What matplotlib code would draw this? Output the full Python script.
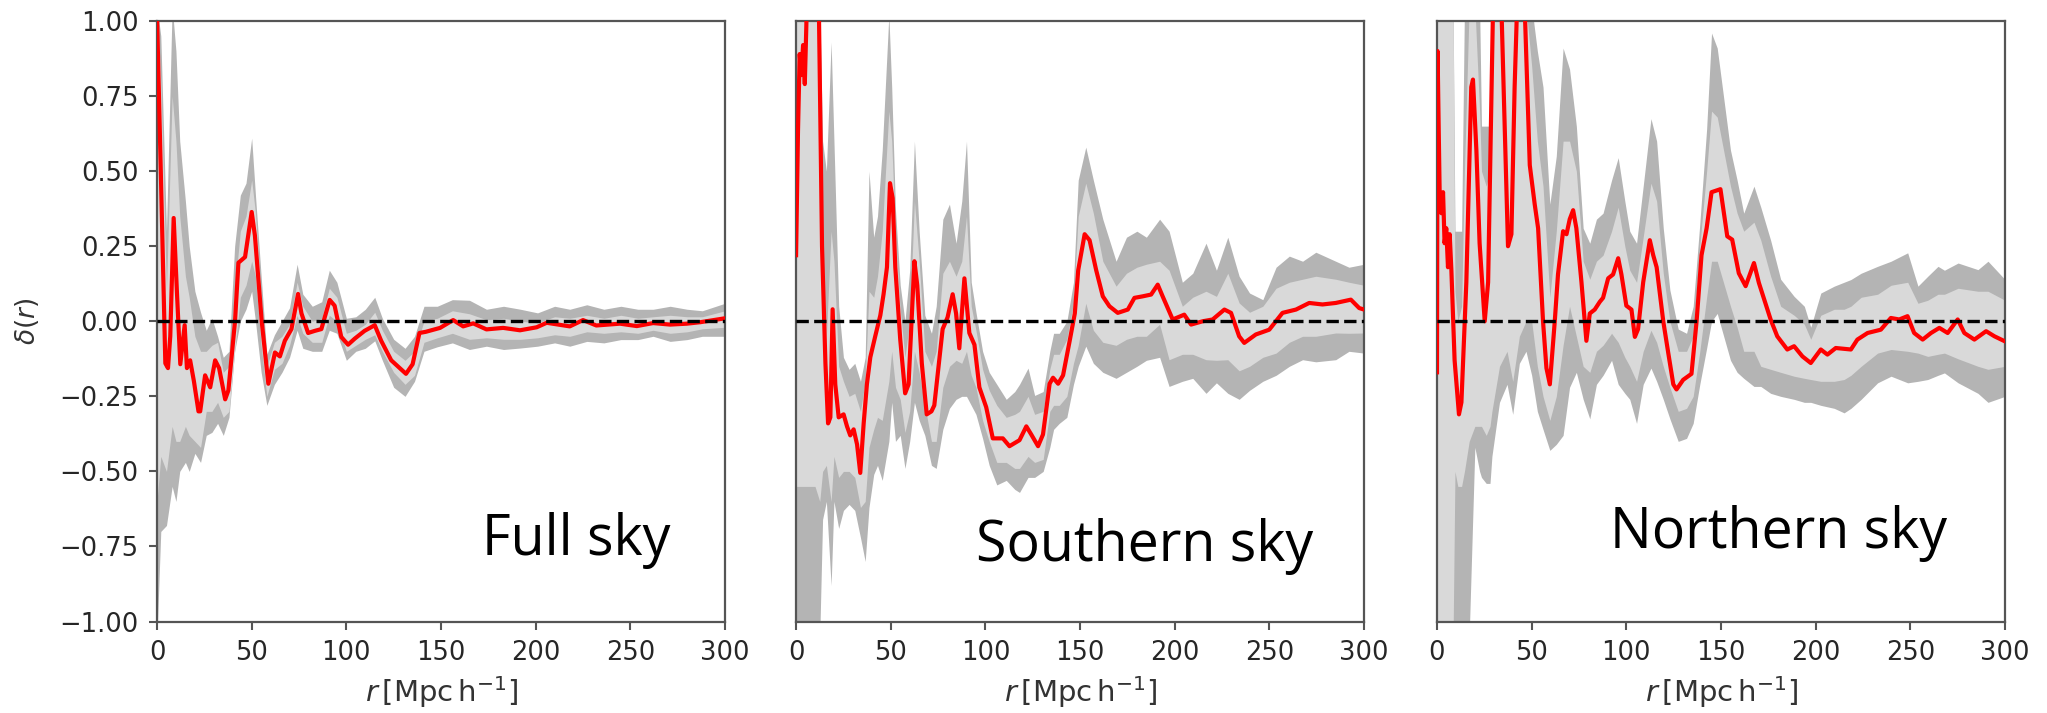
import matplotlib.pyplot as plt
from matplotlib.ticker import FuncFormatter

# ---------------- Full sky ----------------
r_full = [0, 2, 4.4, 5.8, 7, 8.8, 10.5, 12.3, 14.6, 15.8, 17.5, 19.5, 21.9, 22.8, 25.4, 28.1,
          30.7, 32.8, 36, 37.7, 41.2, 43, 46.5, 50, 51.7, 55.3, 58.8, 62.3, 64.9, 67.5, 71,
          74.5, 76.3, 79.8, 83.3, 86.8, 91.2, 93.8, 97.3, 100.9, 104.4, 109.6, 115, 118.4,
          123.7, 131.5, 135, 138.6, 142, 149.5, 156.4, 161.7, 167, 174, 182.8, 191.7, 200.5,
          205.8, 218, 225, 232, 244.5, 253.4, 262, 271, 279.8, 287, 300]
delta_full = [1.02, 0.5, -0.14, -0.156, -0.05, 0.344, 0.1, -0.143, -0.013, -0.156, -0.13, -0.2,
              -0.30, -0.30, -0.18, -0.22, -0.13, -0.156, -0.26, -0.23, 0.0, 0.195, 0.214, 0.364,
              0.286, 0.0, -0.208, -0.104, -0.117, -0.065, -0.026, 0.091, 0.026, -0.039, -0.032,
              -0.026, 0.071, 0.052, -0.052, -0.078, -0.058, -0.032, -0.013, -0.065, -0.13,
              -0.175, -0.143, -0.039, -0.035, -0.022, 0.004, -0.017, -0.007, -0.027, -0.022,
              -0.03, -0.02, -0.005, -0.017, 0.004, -0.014, -0.008, -0.016, -0.006, -0.011,
              -0.008, -0.003, 0.01]

rb_full = [0, 2, 5, 8, 10, 12, 15, 17, 20, 23, 26, 29, 32, 35, 38, 41, 44, 47, 50, 52, 55, 58,
           62, 66, 70, 74, 77, 82, 87, 91, 95, 100, 105, 110, 115, 119, 125, 131, 136, 141, 148,
           156, 165, 174, 183, 192, 201, 210, 218, 227, 236, 245, 254, 262, 271, 280, 288, 300]
hi2_full = [1.05, 0.95, 0.3, 1.05, 0.9, 0.6, 0.4, 0.25, 0.1, 0.03, -0.03, 0.01, -0.05, -0.12,
            -0.1, 0.25, 0.42, 0.46, 0.61, 0.42, 0.15, -0.11, -0.045, 0.0, 0.045, 0.19, 0.09,
            0.05, 0.065, 0.17, 0.13, 0.01, 0.015, 0.04, 0.08, 0.01, -0.06, -0.09, -0.05, 0.05,
            0.05, 0.072, 0.07, 0.04, 0.05, 0.04, 0.028, 0.05, 0.04, 0.055, 0.04, 0.05, 0.04,
            0.04, 0.05, 0.04, 0.035, 0.06]
hi1_full = [1.05, 0.8, 0.1, 0.75, 0.6, 0.35, 0.15, 0.08, -0.05, -0.1, -0.1, -0.08, -0.07, -0.17,
            -0.15, 0.1, 0.3, 0.35, 0.47, 0.36, 0.08, -0.15, -0.07, -0.05, -0.01, 0.13, 0.05,
            0.0, 0.01, 0.11, 0.08, -0.04, -0.03, -0.01, 0.03, -0.03, -0.1, -0.13, -0.1, 0.0,
            0.01, 0.035, 0.025, 0.005, 0.01, 0.0, -0.005, 0.015, 0.01, 0.02, 0.01, 0.02, 0.01,
            0.015, 0.02, 0.015, 0.015, 0.035]
lo1_full = [-0.6, -0.45, -0.5, -0.35, -0.4, -0.4, -0.35, -0.38, -0.4, -0.42, -0.3, -0.3, -0.27,
            -0.32, -0.3, -0.1, 0.08, 0.12, 0.2, 0.15, -0.08, -0.25, -0.16, -0.14, -0.08, 0.02,
            -0.04, -0.07, -0.07, 0.02, 0.0, -0.1, -0.08, -0.06, -0.045, -0.1, -0.17, -0.21,
            -0.18, -0.07, -0.055, -0.04, -0.06, -0.055, -0.06, -0.06, -0.055, -0.045, -0.05,
            -0.035, -0.04, -0.035, -0.04, -0.03, -0.04, -0.035, -0.025, -0.02]
lo2_full = [-1.05, -0.7, -0.68, -0.55, -0.6, -0.5, -0.47, -0.5, -0.44, -0.47, -0.38, -0.37,
            -0.34, -0.38, -0.32, -0.1, 0.0, 0.04, 0.1, 0.0, -0.17, -0.28, -0.21, -0.17, -0.12,
            -0.03, -0.09, -0.1, -0.1, -0.03, -0.04, -0.13, -0.1, -0.09, -0.065, -0.13, -0.22,
            -0.25, -0.2, -0.1, -0.085, -0.072, -0.094, -0.083, -0.094, -0.089, -0.083, -0.072,
            -0.083, -0.067, -0.072, -0.061, -0.061, -0.05, -0.067, -0.061, -0.05, -0.05]

# ---------------- Southern sky ----------------
r_south = [0, 1, 1.9, 2.8, 3.7, 4.6, 5.4, 6.5, 11.5, 13.7, 15.5, 16.9, 18.1, 19.3, 20.7, 22.5,
           25.1, 26.9, 28.6, 30.4, 32.2, 33.9, 35.7, 37.4, 39.2, 41.8, 44.5, 46.2, 48, 49.6, 51,
           52.4, 55, 57.6, 59.4, 62.5, 64, 66.4, 69, 71.5, 73, 77.4, 80, 82.7, 84.5, 86.2, 88.9,
           91.5, 94.2, 96.8, 100.4, 103.9, 109.2, 112.7, 118, 121.6, 124.2, 127.8, 130.4,
           133.9, 135.7, 138.4, 141, 144.5, 147.2, 149, 152.4, 155, 158.5, 162, 165.5, 169.9,
           175.2, 178.7, 183, 187.5, 191, 193.6, 198.9, 205, 208.6, 214.7, 220, 226.2, 229.7,
           234, 236.7, 242.8, 249.9, 256.9, 264, 271, 278, 285, 293, 297.4, 300]
delta_south = [0.22, 0.63, 0.89, 0.82, 0.92, 0.79, 0.98, 1.3, 1.3, 0.25, -0.14, -0.34, -0.32,
               0.04, -0.21, -0.32, -0.31, -0.35, -0.38, -0.36, -0.41, -0.505, -0.34, -0.21,
               -0.12, -0.05, 0.02, 0.09, 0.18, 0.46, 0.41, 0.18, -0.06, -0.24, -0.21, 0.2, 0.12,
               -0.14, -0.31, -0.30, -0.28, -0.026, 0.013, 0.09, 0.026, -0.09, 0.143, -0.039,
               -0.078, -0.22, -0.286, -0.39, -0.39, -0.416, -0.396, -0.35, -0.377, -0.416,
               -0.377, -0.208, -0.188, -0.208, -0.18, -0.065, 0.026, 0.17, 0.29, 0.27, 0.17,
               0.083, 0.05, 0.028, 0.039, 0.078, 0.083, 0.089, 0.122, 0.083, 0.006, 0.022,
               -0.011, 0.0, 0.006, 0.039, 0.028, -0.05, -0.072, -0.044, -0.028, 0.028, 0.039,
               0.061, 0.056, 0.061, 0.072, 0.044, 0.039]

rb_south = [0, 5, 10, 12.5, 14, 16, 18.5, 20, 22.5, 25, 28, 31, 34, 36.5, 38.5, 41, 43, 45.5, 49,
            50.5, 52.5, 55, 57.5, 60, 62.5, 65, 68, 71.5, 74, 77.5, 81, 84.5, 87.5, 90, 92.5, 95,
            98.5, 102, 106, 111, 115.5, 118, 122.5, 126, 130.5, 134, 136, 139, 143, 146.5, 149,
            153, 157, 162, 169, 174.5, 180, 185, 192, 197, 204, 209.5, 216.5, 222, 228, 234,
            239.5, 246.5, 253.5, 260.5, 267.5, 274.5, 285, 292, 300]
hi2_south = [1.05, 1.05, 1.05, 1.05, 0.6, 0.5, 0.93, 0.6, 0.05, -0.12, -0.16, -0.14, -0.2, -0.12,
             0.5, 0.28, 0.35, 0.57, 1.02, 0.78, 0.37, 0.12, 0.0, 0.17, 0.6, 0.3, 0.02, -0.04,
             0.05, 0.34, 0.39, 0.26, 0.4, 0.6, 0.13, 0.03, -0.1, -0.17, -0.21, -0.26, -0.234,
             -0.21, -0.156, -0.247, -0.234, -0.1, -0.04, -0.04, 0.0, 0.13, 0.47, 0.58, 0.47,
             0.34, 0.2, 0.28, 0.3, 0.28, 0.34, 0.3, 0.13, 0.16, 0.26, 0.17, 0.28, 0.15, 0.094,
             0.072, 0.18, 0.217, 0.2, 0.23, 0.2, 0.18, 0.19]
hi1_south = [1.05, 1.05, 1.05, 1.05, 0.2, -0.05, 0.3, 0.2, -0.15, -0.2, -0.25, -0.24, -0.3, -0.2,
             0.1, 0.08, 0.15, 0.3, 0.7, 0.6, 0.28, 0.04, -0.12, 0.0, 0.4, 0.2, -0.1, -0.15,
             -0.1, 0.16, 0.2, 0.15, 0.2, 0.35, 0.05, -0.03, -0.16, -0.23, -0.28, -0.32, -0.31,
             -0.3, -0.25, -0.31, -0.3, -0.16, -0.11, -0.11, -0.06, 0.06, 0.35, 0.46, 0.36, 0.2,
             0.117, 0.16, 0.18, 0.19, 0.2, 0.17, 0.05, 0.08, 0.1, 0.083, 0.16, 0.061, 0.03, 0.05,
             0.11, 0.13, 0.14, 0.15, 0.14, 0.13, 0.12]
lo1_south = [-0.55, -0.55, -0.55, -0.6, -0.5, -0.48, -0.6, -0.45, -0.52, -0.5, -0.5, -0.52,
             -0.62, -0.6, -0.42, -0.36, -0.32, -0.33, -0.2, -0.1, -0.22, -0.26, -0.37, -0.3,
             -0.1, -0.17, -0.28, -0.4, -0.4, -0.22, -0.15, -0.13, -0.14, -0.1, -0.18, -0.22,
             -0.33, -0.4, -0.47, -0.47, -0.49, -0.49, -0.45, -0.47, -0.46, -0.3, -0.28, -0.28,
             -0.25, -0.14, -0.08, 0.06, -0.03, -0.07, -0.08, -0.06, -0.05, -0.05, -0.01, -0.128,
             -0.11, -0.11, -0.128, -0.13, -0.128, -0.165, -0.15, -0.12, -0.106, -0.07, -0.05,
             -0.05, -0.039, -0.04, -0.039]
lo2_south = [-1.05, -1.05, -1.05, -1.05, -0.66, -0.6, -0.88, -0.6, -0.69, -0.63, -0.61, -0.63,
             -0.72, -0.8, -0.62, -0.51, -0.48, -0.53, -0.4, -0.27, -0.4, -0.38, -0.49, -0.4,
             -0.27, -0.33, -0.38, -0.48, -0.49, -0.36, -0.29, -0.26, -0.25, -0.25, -0.28, -0.31,
             -0.39, -0.48, -0.545, -0.53, -0.56, -0.57, -0.52, -0.52, -0.5, -0.42, -0.36, -0.34,
             -0.32, -0.21, -0.15, -0.083, -0.14, -0.17, -0.19, -0.17, -0.15, -0.13, -0.12,
             -0.217, -0.2, -0.19, -0.24, -0.205, -0.24, -0.26, -0.23, -0.2, -0.18, -0.15,
             -0.128, -0.135, -0.128, -0.1, -0.106]

# ---------------- Northern sky ----------------
r_north = [0, 0.3, 1.4, 2.3, 3.2, 4, 4.9, 5.8, 6.7, 7.6, 9.3, 11.6, 12.9, 15.5, 18.1, 19, 20.8,
           22.5, 25.2, 27, 29.6, 31, 34, 37.5, 39.3, 41, 42.3, 44, 46.3, 49, 51.6, 53.4, 56,
           57.8, 59.6, 62.2, 63.9, 66.6, 68.4, 70.1, 71.9, 73.6, 76.3, 78.9, 80.7, 83.3, 86,
           87.7, 90.4, 93, 95.7, 97.4, 100, 102.7, 104.5, 106.2, 108.9, 112.4, 114.2, 116,
           119.5, 122.1, 124.8, 126.5, 130, 134.4, 137.1, 139.7, 142.4, 145, 149.7, 153.3,
           155.9, 159.4, 163, 167.4, 170, 176.2, 179.7, 185, 188.6, 193, 197.4, 202.7, 206.2,
           210.6, 218.6, 222, 227.4, 234.4, 239.7, 244.1, 248.5, 252, 256.5, 260.9, 265.3,
           269.7, 275, 278.5, 283.8, 290, 294.4, 300]
delta_north = [-0.17, 0.9, 0.43, 0.36, 0.43, 0.26, 0.31, 0.18, 0.29, 0.17, -0.13, -0.31, -0.27,
               0.13, 0.78, 0.805, 0.57, 0.26, 0.0, 0.13, 1.05, 1.3, 1.05, 0.25, 0.29, 0.78, 1.05,
               1.3, 1.05, 0.52, 0.39, 0.31, 0.0, -0.156, -0.21, 0.0, 0.156, 0.3, 0.29, 0.34,
               0.37, 0.31, 0.13, -0.065, 0.026, 0.039, 0.065, 0.078, 0.143, 0.156, 0.21, 0.156,
               0.052, 0.039, -0.052, -0.026, 0.13, 0.27, 0.22, 0.18, 0.0, -0.104, -0.21, -0.227,
               -0.195, -0.175, 0.0, 0.22, 0.31, 0.43, 0.44, 0.283, 0.272, 0.16, 0.117, 0.194,
               0.128, 0.006, -0.05, -0.094, -0.083, -0.117, -0.139, -0.094, -0.111, -0.089,
               -0.094, -0.061, -0.039, -0.028, 0.011, 0.006, 0.017, -0.039, -0.061, -0.039,
               -0.022, -0.039, 0.006, -0.039, -0.061, -0.033, -0.05, -0.067]

rb_north = [0, 4, 8.5, 9.5, 11, 13, 14.5, 17, 20, 22.5, 23.5, 26, 28, 29, 33, 37, 40, 43.5, 47,
            50, 53, 56, 59.6, 63, 66.6, 70, 73.6, 77.2, 80.7, 84.2, 87.7, 92.2, 95.7, 99.2,
            101.8, 105.4, 108.9, 113, 116, 119.5, 123, 127.4, 131.8, 135.3, 138.8, 142.4, 145,
            148, 155, 158.5, 162, 167.4, 171, 176.2, 181.5, 188.6, 194, 197.4, 202.7, 209.8,
            215, 218.6, 224, 232.7, 239.8, 248.6, 254, 259.2, 264.6, 268, 275.2, 285.7, 291, 300]
hi2_north = [1.05, 1.05, 1.05, 0.3, 0.3, 0.3, 1.05, 1.05, 1.05, 1.05, 0.65, 0.65, 0.65, 1.05,
             1.05, 1.05, 1.05, 1.05, 1.05, 1.05, 0.9, 0.78, 0.39, 0.55, 0.91, 0.84, 0.65, 0.31,
             0.26, 0.34, 0.36, 0.47, 0.545, 0.4, 0.3, 0.26, 0.45, 0.675, 0.6, 0.31, 0.104,
             -0.026, -0.04, 0.05, 0.325, 0.64, 0.96, 0.91, 0.57, 0.47, 0.36, 0.45, 0.38, 0.27,
             0.14, 0.083, 0.05, -0.02, 0.094, 0.117, 0.13, 0.139, 0.16, 0.183, 0.2, 0.228,
             0.117, 0.15, 0.183, 0.17, 0.194, 0.172, 0.2, 0.139]
hi1_north = [1.05, 1.05, 1.05, 0.1, 0.0, 0.05, 0.5, 1.05, 1.05, 0.7, 0.5, 0.45, 0.5, 1.05, 1.05,
             1.05, 1.05, 1.05, 1.05, 0.85, 0.6, 0.45, 0.08, 0.3, 0.6, 0.6, 0.5, 0.2, 0.14, 0.2,
             0.22, 0.3, 0.38, 0.25, 0.17, 0.13, 0.28, 0.46, 0.4, 0.16, 0.0, -0.1, -0.1, -0.05,
             0.25, 0.5, 0.7, 0.68, 0.45, 0.36, 0.3, 0.33, 0.27, 0.15, 0.05, 0.02, -0.01, -0.06,
             0.02, 0.04, 0.04, 0.05, 0.08, 0.09, 0.12, 0.13, 0.06, 0.07, 0.09, 0.09, 0.11, 0.1,
             0.1, 0.07]
lo1_north = [-1.05, -1.05, -1.05, -0.5, -0.55, -0.55, -0.5, -0.4, -0.35, -0.35, -0.35, -0.38,
             -0.35, -0.3, -0.15, -0.1, -0.2, -0.05, 0.0, 0.0, -0.15, -0.25, -0.33, -0.25, -0.08,
             0.05, -0.05, -0.15, -0.17, -0.1, -0.08, -0.04, -0.07, -0.12, -0.15, -0.2, -0.1,
             -0.03, -0.07, -0.15, -0.22, -0.3, -0.29, -0.25, -0.1, 0.08, 0.2, 0.2, 0.05, -0.02,
             -0.1, -0.1, -0.15, -0.16, -0.17, -0.183, -0.19, -0.194, -0.2, -0.2, -0.194, -0.18,
             -0.15, -0.106, -0.094, -0.1, -0.106, -0.117, -0.11, -0.106, -0.125, -0.15, -0.16,
             -0.15]
lo2_north = [-1.05, -1.05, -1.05, -1.05, -1.05, -1.05, -1.05, -1.05, -0.42, -0.5, -0.52, -0.54,
             -0.54, -0.45, -0.27, -0.21, -0.31, -0.14, -0.1, -0.18, -0.3, -0.36, -0.43, -0.41,
             -0.38, -0.22, -0.17, -0.26, -0.325, -0.21, -0.18, -0.13, -0.21, -0.24, -0.26,
             -0.34, -0.21, -0.156, -0.2, -0.26, -0.325, -0.4, -0.39, -0.34, -0.21, -0.09, 0.0,
             0.026, -0.13, -0.17, -0.19, -0.217, -0.217, -0.24, -0.25, -0.26, -0.27, -0.27,
             -0.28, -0.29, -0.305, -0.29, -0.26, -0.205, -0.183, -0.205, -0.2, -0.194, -0.18,
             -0.172, -0.205, -0.24, -0.27, -0.25]

panels = [
    ("Full sky", r_full, delta_full, rb_full, lo2_full, lo1_full, hi1_full, hi2_full),
    ("Southern sky", r_south, delta_south, rb_south, lo2_south, lo1_south, hi1_south, hi2_south),
    ("Northern sky", r_north, delta_north, rb_north, lo2_north, lo1_north, hi1_north, hi2_north),
]
lefts = [0.0767, 0.3889, 0.702]
label_pos = [(0.572, 0.11), (0.316, 0.10), (0.305, 0.122)]

fig = plt.figure(figsize=(20.47, 7.13), dpi=100)

for i, (name, r, d, rb, lo2, lo1, hi1, hi2) in enumerate(panels):
    ax = fig.add_axes([lefts[i], 0.1283, 0.2775, 0.8422])
    ax.fill_between(rb, lo2, hi2, color="#b4b4b4", lw=0, zorder=1)
    ax.fill_between(rb, lo1, hi1, color="#d9d9d9", lw=0, zorder=2)
    ax.plot(r, d, color="red", lw=3.0, zorder=3)
    ax.axhline(0, color="black", ls="--", lw=2.4, zorder=4)

    ax.set_xlim(0, 300)
    ax.set_ylim(-1, 1)
    ax.set_xticks(range(0, 301, 50))
    for s in ax.spines.values():
        s.set_color("#555555")
        s.set_linewidth(1.6)
    ax.tick_params(direction="out", length=5.5, width=1.5, color="#555555",
                   labelsize=18.5, labelcolor="#262626", pad=8)
    ax.set_xlabel(r"$r\,[\mathrm{Mpc\,h^{-1}}]$", fontsize=21, color="#333333")
    ax.xaxis.set_label_coords(0.5, -0.088)

    if i == 0:
        ax.set_yticks([-1, -0.75, -0.5, -0.25, 0, 0.25, 0.5, 0.75, 1])
        ax.yaxis.set_major_formatter(
            FuncFormatter(lambda v, pos: f"{v:.2f}".replace("-", "\u2212")))
        ax.set_ylabel(r"$\delta(r)$", fontsize=19, color="#333333")
        ax.yaxis.set_label_coords(-0.205, 0.5)
    else:
        ax.set_yticks([])

    ax.text(label_pos[i][0], label_pos[i][1], name, transform=ax.transAxes,
            fontsize=40, family="Open Sans", color="black", ha="left", va="baseline",
            zorder=5)

fig.savefig("out.png", dpi=100)
